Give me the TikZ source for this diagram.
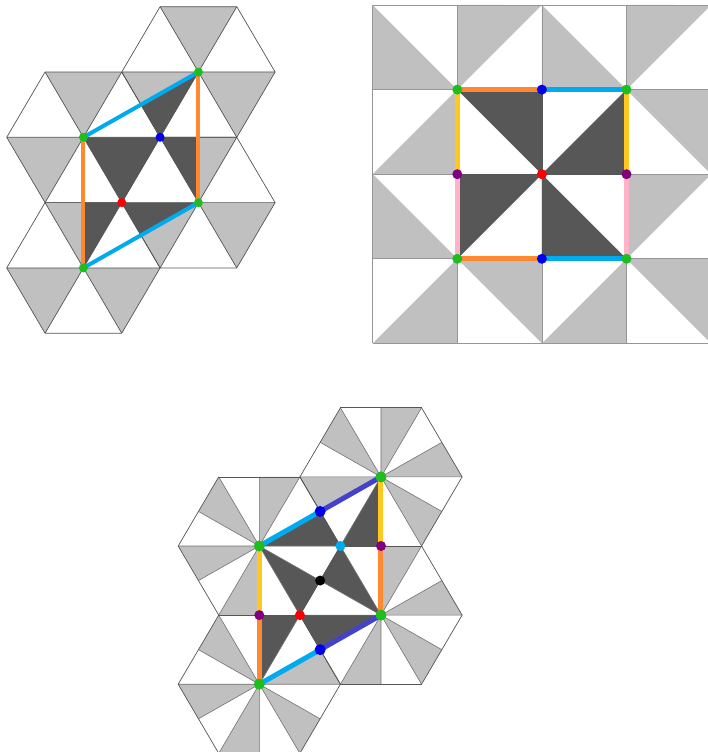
\documentclass[tikz,border=0pt]{standalone}
\definecolor{lg}{RGB}{192,192,192}
\definecolor{dg}{RGB}{87,87,87}
\definecolor{edgec}{RGB}{85,85,85}
\definecolor{spokec}{RGB}{115,115,115}
\definecolor{gridc}{RGB}{150,150,150}
\definecolor{cgreen}{RGB}{30,190,30}
\definecolor{cblue}{RGB}{0,0,235}
\definecolor{cred}{RGB}{250,0,0}
\definecolor{ccyan}{RGB}{0,170,238}
\definecolor{corange}{RGB}{255,136,48}
\definecolor{cyellow}{RGB}{255,200,30}
\definecolor{cpink}{RGB}{255,178,200}
\definecolor{cpurple}{RGB}{128,0,128}
\definecolor{cindigo}{RGB}{66,66,204}
\begin{document}
\begin{tikzpicture}[x=1pt,y=1pt,
  hexedge/.style={draw=edgec, line width=0.7pt},
  spoke/.style={draw=spokec, line width=0.6pt},
  gridline/.style={draw=gridc, line width=0.8pt},
  segthin/.style={line width=4pt, line cap=round},
  segthick/.style={line width=5pt, line cap=round},
  ptsmall/.style={circle, inner sep=0pt, minimum size=9pt},
  ptmid/.style={circle, inner sep=0pt, minimum size=10pt},
  ptbig/.style={circle, inner sep=0pt, minimum size=11pt}]
\useasboundingbox (0,0) rectangle (708,-752);
\clip (0,0) rectangle (708,-752);
\fill[white] (0,0) rectangle (708,-752);

% ---------------- Panel 1: triangular tiling ----------------
\def\sA{75.4}
\begin{scope}[shift={(83.4,-137.3)}, xscale=1.017]
  \coordinate (A1) at (0,0);
  \coordinate (B1) at (113.1,65.3);
  \coordinate (C1) at (113.1,-65.3);
  \coordinate (D1) at (0,-130.6);
  \coordinate (R1) at (37.7,-65.3);
  \coordinate (U1) at (75.4,0);
  \foreach \c in {A1,B1,C1,D1}
    \foreach \k in {1,3,5}
      \fill[lg] (\c) -- +({60*\k}:\sA) -- +({60*\k+60}:\sA) -- cycle;
  \begin{scope}
    \clip (A1) -- (B1) -- (C1) -- (D1) -- cycle;
    \foreach \c in {A1,B1,C1,D1}
      \foreach \k in {1,3,5}
        \fill[dg] (\c) -- +({60*\k}:\sA) -- +({60*\k+60}:\sA) -- cycle;
  \end{scope}
  \foreach \c in {A1,B1,C1,D1}
    \foreach \k in {0,...,5}
      \draw[hexedge] (\c) -- +({60*\k}:\sA) (\c) +({60*\k}:\sA) -- +({60*\k+60}:\sA);
  \draw[segthin, ccyan] (A1) -- (B1);
  \draw[segthin, ccyan] (D1) -- (C1);
  \draw[segthin, corange] (A1) -- (D1);
  \draw[segthin, corange] (B1) -- (C1);
  \node[ptsmall, fill=cgreen] (nA1) at (A1) {};
  \node[ptsmall, fill=cgreen] (nB1) at (B1) {};
  \node[ptsmall, fill=cgreen] (nC1) at (C1) {};
  \node[ptsmall, fill=cgreen] (nD1) at (D1) {};
  \node[ptsmall, fill=cred] (nR1) at (R1) {};
  \node[ptsmall, fill=cblue] (nU1) at (U1) {};
\end{scope}

% ---------------- Panel 2: square tiling ----------------
\def\sq{84.6}
\def\sqd{119.64}
\begin{scope}[shift={(372.7,-5)}]
  \coordinate (Pa) at (\sq,-\sq);
  \coordinate (Pb) at ({3*\sq},-\sq);
  \coordinate (Pc) at (\sq,{-3*\sq});
  \coordinate (Pd) at ({3*\sq},{-3*\sq});
  \coordinate (Qa) at ({2*\sq},-\sq);
  \coordinate (Qb) at ({2*\sq},{-3*\sq});
  \coordinate (Ma) at (\sq,{-2*\sq});
  \coordinate (Mb) at ({3*\sq},{-2*\sq});
  \coordinate (R2) at ({2*\sq},{-2*\sq});
  \foreach \c in {Pa,Pb,Pc,Pd}
    \foreach \k in {0,1,2,3}
      \fill[lg] (\c) -- +({45+90*\k}:\sqd) -- +({90+90*\k}:\sq) -- cycle;
  \begin{scope}
    \clip (Pa) rectangle (Pd);
    \foreach \c in {Pa,Pb,Pc,Pd}
      \foreach \k in {0,1,2,3}
        \fill[dg] (\c) -- +({45+90*\k}:\sqd) -- +({90+90*\k}:\sq) -- cycle;
  \end{scope}
  \foreach \i in {0,...,4} {
    \draw[gridline] ({\i*\sq},0) -- ({\i*\sq},{-4*\sq});
    \draw[gridline] (0,{-\i*\sq}) -- ({4*\sq},{-\i*\sq});
  }
  \draw[edgec, line width=0.8pt] (Pa) rectangle (Pd) (Qa) -- (Qb) (Ma) -- (Mb);
  \draw[segthick, corange] (Pa) -- (Qa);
  \draw[segthick, ccyan] (Qa) -- (Pb);
  \draw[segthick, corange] (Pc) -- (Qb);
  \draw[segthick, ccyan] (Qb) -- (Pd);
  \draw[segthick, cyellow] (Pa) -- (Ma);
  \draw[segthick, cpink] (Ma) -- (Pc);
  \draw[segthick, cyellow] (Pb) -- (Mb);
  \draw[segthick, cpink] (Mb) -- (Pd);
  \node[ptmid, fill=cgreen] (nPa) at (Pa) {};
  \node[ptmid, fill=cgreen] (nPb) at (Pb) {};
  \node[ptmid, fill=cgreen] (nPc) at (Pc) {};
  \node[ptmid, fill=cgreen] (nPd) at (Pd) {};
  \node[ptmid, fill=cblue] (nQa) at (Qa) {};
  \node[ptmid, fill=cblue] (nQb) at (Qb) {};
  \node[ptmid, fill=cpurple] (nMa) at (Ma) {};
  \node[ptmid, fill=cpurple] (nMb) at (Mb) {};
  \node[ptmid, fill=cred] (nR2) at (R2) {};
\end{scope}

% ---------------- Panel 3: hexagons split in 12 ----------------
\def\sC{79.8}
\def\hC{69.11}
\begin{scope}[shift={(259.3,-546)}, xscale=1.0165]
  \coordinate (H2) at (0,0);
  \coordinate (H1) at (119.7,69.11);
  \coordinate (H3) at (119.7,-69.11);
  \coordinate (H4) at (0,-138.22);
  \coordinate (Ba) at (59.85,34.555);
  \coordinate (Bb) at (59.85,-103.665);
  \coordinate (Va) at (119.7,0);
  \coordinate (Vb) at (0,-69.11);
  \coordinate (Cy) at (79.8,0);
  \coordinate (Bk) at (59.85,-34.555);
  \coordinate (R3) at (39.9,-69.11);
  \foreach \c in {H1,H2,H3,H4}
    \foreach \k in {0,...,5}
      \fill[lg] (\c) -- +({60*\k}:\sC) -- +({60*\k+30}:\hC) -- cycle;
  \begin{scope}
    \clip (H2) -- (H1) -- (H3) -- (H4) -- cycle;
    \foreach \c in {H1,H2,H3,H4}
      \foreach \k in {0,...,5}
        \fill[dg] (\c) -- +({60*\k}:\sC) -- +({60*\k+30}:\hC) -- cycle;
  \end{scope}
  \foreach \c in {H1,H2,H3,H4}
    \foreach \k in {0,...,5} {
      \draw[spoke] (\c) -- +({60*\k}:\sC) (\c) -- +({60*\k+30}:\hC);
      \draw[hexedge] (\c) +({60*\k}:\sC) -- +({60*\k+60}:\sC);
    }
  \draw[segthick, ccyan] (H2) -- (Ba);
  \draw[segthick, cindigo] (Ba) -- (H1);
  \draw[segthick, ccyan] (H4) -- (Bb);
  \draw[segthick, cindigo] (Bb) -- (H3);
  \draw[segthick, cyellow] (H1) -- (Va);
  \draw[segthick, corange] (Va) -- (H3);
  \draw[segthick, cyellow] (H2) -- (Vb);
  \draw[segthick, corange] (Vb) -- (H4);
  \node[ptbig, fill=cgreen] (nH1) at (H1) {};
  \node[ptbig, fill=cgreen] (nH2) at (H2) {};
  \node[ptbig, fill=cgreen] (nH3) at (H3) {};
  \node[ptbig, fill=cgreen] (nH4) at (H4) {};
  \node[ptbig, fill=cblue] (nBa) at (Ba) {};
  \node[ptbig, fill=cblue] (nBb) at (Bb) {};
  \node[ptmid, fill=cpurple] (nVa) at (Va) {};
  \node[ptmid, fill=cpurple] (nVb) at (Vb) {};
  \node[ptmid, fill=ccyan] (nCy) at (Cy) {};
  \node[ptmid, fill=black] (nBk) at (Bk) {};
  \node[ptmid, fill=cred] (nR3) at (R3) {};
\end{scope}
\end{tikzpicture}
\end{document}
